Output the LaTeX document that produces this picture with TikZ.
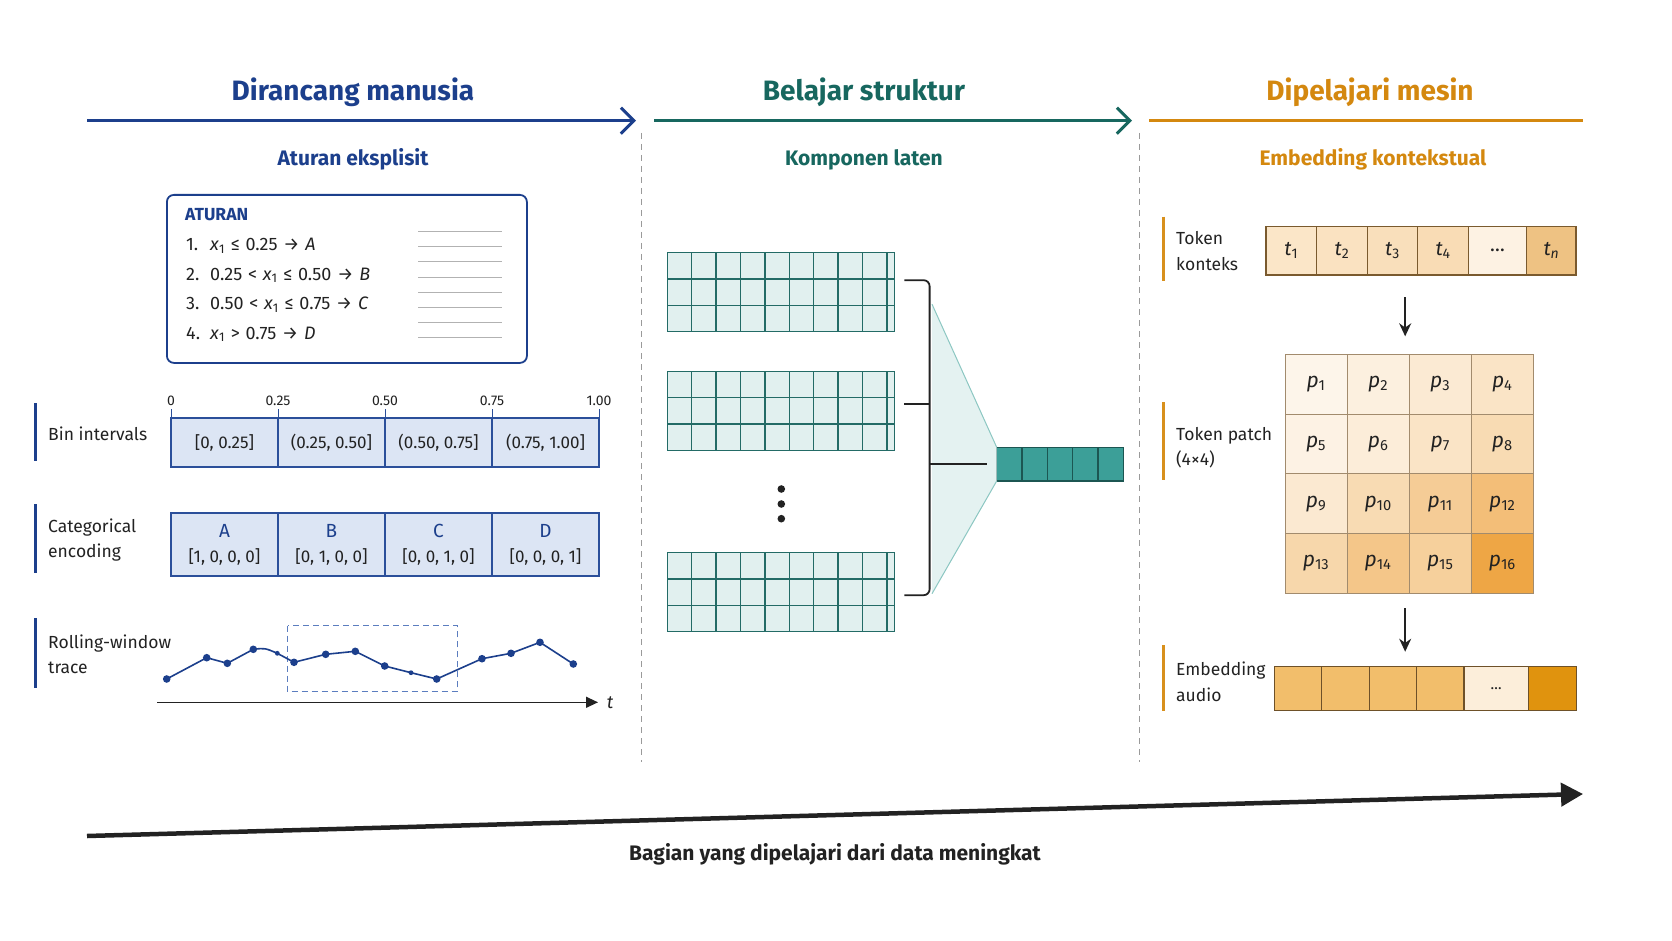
\documentclass[tikz,border=0pt]{standalone}
\usepackage{fontspec}
\setmainfont{Fira Sans}
\usetikzlibrary{arrows.meta, positioning, calc}

\definecolor{navy}{HTML}{1C3F8C}
\definecolor{binline}{HTML}{2B4F9A}
\definecolor{binfill}{HTML}{DCE5F4}
\definecolor{winblue}{HTML}{5B7DBF}
\definecolor{tealdk}{HTML}{17675F}
\definecolor{gridfill}{HTML}{E1F0EF}
\definecolor{gridln}{HTML}{236B66}
\definecolor{vecfill}{HTML}{3C9F98}
\definecolor{fanfill}{HTML}{E4F2F1}
\definecolor{fanln}{HTML}{8CC7C2}
\definecolor{ochre}{HTML}{D4880F}
\definecolor{ochrebar}{HTML}{D8901C}
\definecolor{tokln}{HTML}{7A5A2E}
\definecolor{patchor}{HTML}{EC9A2C}
\definecolor{inkgray}{HTML}{222222}
\definecolor{sepgray}{HTML}{9A9A9A}
\definecolor{tokA}{HTML}{FBE6C8}
\definecolor{tokB}{HTML}{FAE2C1}
\definecolor{tokC}{HTML}{F9DFBB}
\definecolor{tokD}{HTML}{F9DCB5}
\definecolor{tokE}{HTML}{FDF2E3}
\definecolor{tokF}{HTML}{EEC283}
\definecolor{embA}{HTML}{F2BE6B}
\definecolor{embE}{HTML}{FCEEDA}
\definecolor{embF}{HTML}{E0930E}

\newcommand{\xv}{\textit{x}\textsubscript{1}}
\newcommand{\pv}[1]{\textit{p}\textsubscript{#1}}
\newcommand{\tv}[1]{\textit{t}\textsubscript{#1}}
\newcommand{\op}[1]{\hspace{0.32em}#1\hspace{0.32em}}
\newcommand{\catkey}[1]{{\fontsize{19}{25}\selectfont\color{navy}#1}}

\tikzset{
  headtxt/.style={font=\bfseries\fontsize{28}{32}\selectfont, anchor=base},
  subtxt/.style={font=\bfseries\fontsize{21}{25}\selectfont, anchor=base},
  rowlbl/.style={font=\fontsize{17.5}{25.5}\selectfont, text=inkgray, align=left, anchor=west, inner sep=0pt},
  ruletxt/.style={font=\fontsize{18}{20}\selectfont, text=inkgray, anchor=base west, inner sep=0pt},
  ticklbl/.style={font=\fontsize{14}{16}\selectfont, text=inkgray, inner sep=0pt},
  sidebar/.style={line width=3pt},
  phase/.style={line width=3pt},
  sepline/.style={sepgray, line width=0.9pt, dash pattern=on 6pt off 5pt},
  bincell/.style={draw=binline, fill=binfill, line width=1.4pt, minimum width=107pt,
    minimum height=49pt, inner sep=0pt, outer sep=0pt, text=inkgray, font=\fontsize{17}{25}\selectfont},
  catcell/.style={bincell, minimum height=63pt, align=center},
  gridbox/.style={draw=gridln, fill=gridfill, line width=1.4pt, minimum width=227pt,
    minimum height=79pt, inner sep=0pt, outer sep=0pt, anchor=north west},
  veccell/.style={draw=gridln!80!black, fill=vecfill, line width=1.3pt, minimum width=25.3pt,
    minimum height=33.7pt, inner sep=0pt, outer sep=0pt},
  brace/.style={line width=1.8pt, inkgray},
  tokcell/.style={draw=tokln, line width=1.2pt, minimum height=48.3pt, inner sep=0pt,
    outer sep=0pt, text=inkgray, font=\fontsize{20}{22}\selectfont},
  patchcell/.style={draw=tokln!70, line width=0.9pt, minimum width=62.08pt, minimum height=59.75pt,
    inner sep=0pt, outer sep=0pt, text=inkgray, font=\fontsize{21}{22}\selectfont},
  embcell/.style={draw=tokln!90!black, line width=1.2pt, minimum height=44pt, inner sep=0pt,
    outer sep=0pt, text=inkgray, font=\fontsize{15}{18}\selectfont},
  downarrow/.style={line width=1.7pt, inkgray, -{Stealth[length=13pt, width=12pt]}},
  growth/.style={line width=4.5pt, inkgray, -{Triangle[length=22pt, width=23pt]}},
}

\begin{document}
\begin{tikzpicture}[x=1pt, y=-1pt]
\fill[white] (0,0) rectangle (1672,941);
\useasboundingbox (0,0) rectangle (1672,941);

% column heads
\node[headtxt, text=navy] (h1) at (353,100.7) {Dirancang manusia};
\node[headtxt, text=tealdk] (h2) at (864,100.7) {Belajar struktur};
\node[headtxt, text=ochre] (h3) at (1370,100.7) {Dipelajari mesin};
\node[subtxt, text=navy] (s1) at (353,166) {Aturan eksplisit};
\node[subtxt, text=tealdk] (s2) at (864,166) {Komponen laten};
\node[subtxt, text=ochre] (s3) at (1373,166) {Embedding kontekstual};

% phase arrows
\coordinate (ph1s) at (87,120.7);   \coordinate (ph1e) at (636,120.7);
\coordinate (ph2s) at (654,120.7);  \coordinate (ph2e) at (1132,120.7);
\coordinate (ph3s) at (1149,120.7); \coordinate (ph3e) at (1583,120.7);
\draw[phase, navy, -{Straight Barb[length=13pt, width=26pt]}] (ph1s) -- (ph1e);
\draw[phase, tealdk, -{Straight Barb[length=13pt, width=26pt]}] (ph2s) -- (ph2e);
\draw[phase, ochre] (ph3s) -- (ph3e);
\draw[sepline] (641,133) -- (641,762);
\draw[sepline] (1139,133) -- (1139,762);

% ---- left: rules
\node[draw=navy, line width=1.8pt, rounded corners=7pt, minimum width=360pt, minimum height=168pt,
  anchor=north west, fill=white] (rules) at (166,194) {};
\node[ruletxt, text=navy, font=\bfseries\fontsize{17.5}{20}\selectfont] (rhead) at (185,221) {ATURAN};
\node[ruletxt] (r1) at (186,250.7) {\makebox[24pt][l]{1.}\xv\op{≤}0.25\op{→}\textit{A}};
\node[ruletxt] (r2) at (186,280.2) {\makebox[24pt][l]{2.}0.25\op{<}\xv\op{≤}0.50\op{→}\textit{B}};
\node[ruletxt] (r3) at (186,309.8) {\makebox[24pt][l]{3.}0.50\op{<}\xv\op{≤}0.75\op{→}\textit{C}};
\node[ruletxt] (r4) at (186,339.3) {\makebox[24pt][l]{4.}\xv\op{>}0.75\op{→}\textit{D}};
\foreach \yy in {232,247,...,337}
  \draw[black!30, line width=1pt] (418,\yy) -- (502,\yy);

% ---- left: bins
\draw[sidebar, navy] (35,403) -- (35,461);
\node[rowlbl] (lbin) at (48,434) {Bin intervals};
\node[bincell, anchor=north west] (bin1) at (171,418) {[0, 0.25]};
\node[bincell, right=0pt of bin1] (bin2) {(0.25, 0.50]};
\node[bincell, right=0pt of bin2] (bin3) {(0.50, 0.75]};
\node[bincell, right=0pt of bin3] (bin4) {(0.75, 1.00]};
\foreach \a/\v [count=\k] in {bin1.north west/0, bin2.north west/0.25, bin3.north west/0.50,
    bin4.north west/0.75, bin4.north east/1.00}{
  \draw[binline, line width=1pt] (\a) -- ++(0,-9);
  \node[ticklbl] (tick\k) at ([yshift=17pt]\a) {\v};
}

% ---- left: categorical
\draw[sidebar, navy] (35,504) -- (35,573);
\node[rowlbl] (lcat) at (48,540) {Categorical\\encoding};
\node[catcell, anchor=north west] (cat1) at (171,513) {\catkey{A}\\{[1, 0, 0, 0]}};
\node[catcell, right=0pt of cat1] (cat2) {\catkey{B}\\{[0, 1, 0, 0]}};
\node[catcell, right=0pt of cat2] (cat3) {\catkey{C}\\{[0, 0, 1, 0]}};
\node[catcell, right=0pt of cat3] (cat4) {\catkey{D}\\{[0, 0, 0, 1]}};

% ---- left: rolling window
\draw[sidebar, navy] (35,618) -- (35,688);
\node[rowlbl] (lroll) at (48,654.5) {Rolling-window\\trace};
\draw[winblue, line width=1.3pt, dash pattern=on 6pt off 4pt] (287.7,625.7) rectangle (457.3,691.7);
\draw[navy, line width=1.6pt] (166.7,679) -- (206.7,657.7) -- (227.3,663.3) -- (253.3,649.3)
  .. controls (265,648) .. (277.3,653.3) -- (294,662.3) -- (325.7,654.3) -- (355.3,651.3)
  -- (384.7,666) -- (411,672.7) -- (436.7,679) -- (482,658.7) -- (511,653.3) -- (540,642.3) -- (573.3,664);
\foreach \px/\py in {166.7/679, 206.7/657.7, 227.3/663.3, 253.3/649.3, 294/662.3, 325.7/654.3,
    355.3/651.3, 384.7/666, 436.7/679, 482/658.7, 511/653.3, 540/642.3, 573.3/664}
  \fill[navy] (\px,\py) circle (3.8pt);
\fill[navy] (277.3,653.3) circle (2.4pt);
\fill[navy] (411,672.7) circle (2.4pt);
\coordinate (axs) at (157,702.3);
\coordinate (axe) at (598,702.3);
\draw[inkgray, line width=1.3pt, -{Triangle[length=12pt, width=11pt]}] (axs) -- (axe);
\node[font=\itshape\fontsize{18}{20}\selectfont, text=inkgray] (tlbl) at (610,703) {t};

% ---- middle: latent components
\node[gridbox] (g1) at (667.3,252.7) {};
\node[gridbox] (g2) at (667.3,371.3) {};
\node[gridbox] (g3) at (667.3,552.7) {};
\foreach \g in {g1,g2,g3}{
  \foreach \i in {1,...,9}
    \draw[gridln, line width=1.4pt] ([xshift=\i*24.4pt]\g.north west) -- ([xshift=\i*24.4pt]\g.south west);
  \foreach \j in {1,2}
    \draw[gridln, line width=1.4pt] ([yshift=-\j*26.33pt]\g.north west) -- ([yshift=-\j*26.33pt]\g.north east);
}
\foreach \yy [count=\k] in {489,504,518.7}
  \node[circle, fill=inkgray, inner sep=0pt, minimum size=7.6pt] (vd\k) at (781.3,\yy) {};

\node[veccell, anchor=north west] (v1) at (996.7,447.3) {};
\node[veccell, right=0pt of v1] (v2) {};
\node[veccell, right=0pt of v2] (v3) {};
\node[veccell, right=0pt of v3] (v4) {};
\node[veccell, right=0pt of v4] (v5) {};

\coordinate (br1) at ([xshift=10pt, yshift=12pt]g1.east);
\coordinate (br2) at ([xshift=10pt, yshift=7pt]g2.east);
\coordinate (br3) at ([xshift=10pt, yshift=-3pt]g3.east);
\coordinate (sp) at ([xshift=25.3pt]br1);
% fan into the vector
\fill[fanfill] ($(sp)+(2.4,24)$) -- (v1.north west) -- (v1.south west) -- ($(sp |- br3)+(2.4,-1.5)$) -- cycle;
\draw[fanln, line width=1pt] ($(sp)+(2.4,24)$) -- (v1.north west);
\draw[fanln, line width=1pt] ($(sp |- br3)+(2.4,-1.5)$) -- (v1.south west);
\draw[brace, rounded corners=6pt] (br1) -- (sp) |- (br3);
\draw[brace] (br2) -- (sp |- br2);
\draw[brace] (sp |- v1.west) -- ([xshift=-10pt]v1.west);

% ---- right: context tokens
\draw[sidebar, ochrebar] (1163.3,216.7) -- (1163.3,281);
\node[rowlbl] (ltok) at (1176,250.8) {Token\\konteks};
\node[tokcell, minimum width=50.6pt, fill=tokA, anchor=north west] (tok1) at (1266,226.7) {\tv{1}};
\node[tokcell, minimum width=50.6pt, fill=tokB, right=0pt of tok1] (tok2) {\tv{2}};
\node[tokcell, minimum width=50.6pt, fill=tokC, right=0pt of tok2] (tok3) {\tv{3}};
\node[tokcell, minimum width=50.6pt, fill=tokD, right=0pt of tok3] (tok4) {\tv{4}};
\node[tokcell, minimum width=58.3pt, fill=tokE, right=0pt of tok4] (tokd) {…};
\node[tokcell, minimum width=49.3pt, fill=tokF, right=0pt of tokd] (tokn) {\tv{\textit{n}}};

% ---- right: patch grid
\draw[sidebar, ochrebar] (1163.3,402.3) -- (1163.3,480);
\node[rowlbl] (lpatch) at (1176,447.5) {Token patch\\(4×4)};
\foreach \lvl [count=\n from 0] in {10,15,21,27,13,18,27,36,22,36,50,64,40,56,47,88}{
  \pgfmathtruncatemacro{\col}{mod(\n,4)}
  \pgfmathtruncatemacro{\row}{div(\n,4)}
  \pgfmathtruncatemacro{\idx}{\n+1}
  \node[patchcell, fill=patchor!\lvl!white] (p\idx) at ({1316.04+\col*62.08},{384.2+\row*59.75}) {\pv{\idx}};
}

% ---- right: audio embedding
\draw[sidebar, ochrebar] (1163.3,645) -- (1163.3,710.7);
\node[rowlbl] (lemb) at (1176,682) {Embedding\\audio};
\node[embcell, minimum width=47.4pt, fill=embA, anchor=north west] (em1) at (1274.3,666.7) {};
\node[embcell, minimum width=47.4pt, fill=embA, right=0pt of em1] (em2) {};
\node[embcell, minimum width=47.4pt, fill=embA, right=0pt of em2] (em3) {};
\node[embcell, minimum width=47.4pt, fill=embA, right=0pt of em3] (em4) {};
\node[embcell, minimum width=64.7pt, fill=embE, right=0pt of em4] (emd) {…};
\node[embcell, minimum width=47.7pt, fill=embF, right=0pt of emd] (emn) {};

\draw[downarrow, shorten <=22pt, shorten >=18pt] ([xshift=-4pt]p2.north east |- tok3.south) -- ([xshift=-4pt]p2.north east);
\draw[downarrow, shorten <=15pt, shorten >=15pt] ([xshift=-4pt]p14.south east) -- ([xshift=-4pt]p14.south east |- em3.north);

% ---- bottom growth arrow
\coordinate (gs) at (87,836);
\coordinate (ge) at (1583,794);
\draw[growth] (gs) -- (ge);
\node[font=\bfseries\fontsize{21}{24}\selectfont, text=inkgray] (gtxt) at (835,854) {Bagian yang dipelajari dari data meningkat};
\end{tikzpicture}
\end{document}
